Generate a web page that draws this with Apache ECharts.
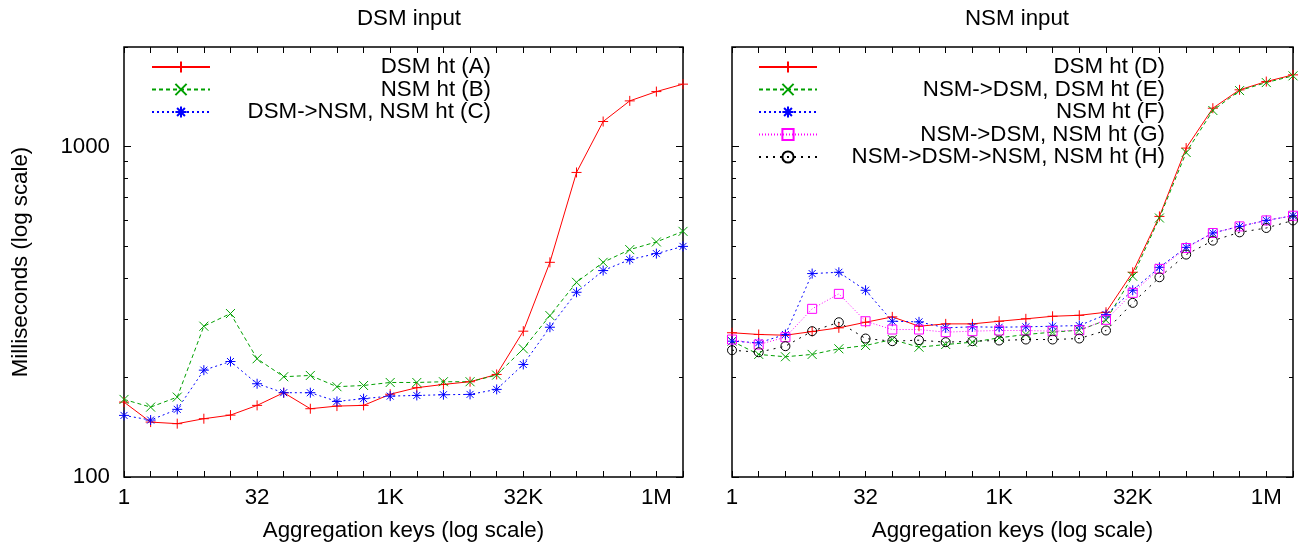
<!DOCTYPE html>
<html>
<head>
<meta charset="utf-8">
<script src="https://cdn.jsdelivr.net/npm/echarts@6/dist/echarts.min.js"></script>
<style>
  html, body { margin: 0; padding: 0; background: #fff; }
  #chart { width: 1305px; height: 550px; }
</style>
</head>
<body>
<div id="chart"></div>
<script>
// x = log2 of number of aggregation keys (1 .. 2M)
var keyExp = [0, 1, 2, 3, 4, 5, 6, 7, 8, 9, 10, 11, 12, 13, 14, 15, 16, 17, 18, 19, 20, 21];
var xTickExp = [0, 5, 10, 15, 20];
var xTickLabels = ["1", "32", "1K", "32K", "1M"];
var yMajor = [100, 1000];
var yMinor = [200, 300, 400, 500, 600, 700, 800, 900, 2000];

// DSM input (ms)
var dsmHtA = [168.5, 146.6, 145.0, 150.1, 153.9, 164.7, 179.9, 160.9, 163.9, 164.7, 178, 186.3, 190.6, 194.2, 204.3, 276.2, 446.2, 834.6, 1190, 1374, 1466, 1544];
var nsmHtB = [171.7, 162.7, 174.5, 285.9, 312.3, 227.9, 201.1, 202.9, 187.6, 189.2, 193.2, 193.2, 194.2, 194.2, 203.4, 244.3, 307.9, 388.2, 446.2, 487.5, 514.3, 553.6];
var dsmNsmC = [153.6, 148.7, 160.2, 210.5, 223.6, 191.5, 179.9, 179.9, 169.3, 172.6, 175.7, 176.5, 177.4, 177.8, 184.1, 219, 283.9, 362.2, 421.3, 454.8, 474.1, 498.6];

// NSM input (ms)
var dsmHtD = [273.2, 269.9, 268.5, 275.5, 282.7, 293.9, 305.1, 285.9, 290.6, 290.6, 296, 301, 306.4, 308.5, 315.1, 416.3, 614.4, 989, 1306, 1484, 1572, 1647];
var nsmDsmE = [257.6, 234.9, 231.1, 234.9, 244.3, 250, 260.6, 247, 251.7, 255.8, 263.7, 269.9, 274.3, 278.1, 298.1, 404.9, 607.7, 959, 1285, 1476, 1561, 1636];
var nsmHtF = [257.6, 254.7, 269.9, 412.6, 416.3, 367.3, 296, 294.7, 282.7, 284.7, 283.9, 284.7, 285.9, 287.2, 310, 367.3, 430.9, 495.2, 547.4, 573.1, 597.5, 617.4];
var nsmDsmNsmG = [260.6, 251.7, 264.8, 322.7, 358.2, 296, 279.4, 279.4, 274.3, 276.2, 277.5, 277.5, 276.2, 278.1, 298.9, 360.7, 426.3, 493, 547.4, 573.1, 597.5, 617.4];
var nsmDsmNsmH = [241.9, 238.5, 248.8, 276.2, 293.9, 262.4, 257.6, 259.4, 255.8, 257.6, 258.8, 260.6, 260.6, 262.4, 277.5, 336.4, 402.1, 470.9, 519, 549.8, 566.8, 597.5];

var FONT = "'Liberation Sans', Arial, sans-serif";
var FS = 22.3;
var PLUS = "path://M0,5L10,5M5,0L5,10";
var CROSS = "path://M0,0L10,10M10,0L0,10";
var STAR = "path://M0,5L10,5M5,0L5,10M1.5,1.5L8.5,8.5M8.5,1.5L1.5,8.5";

var chart = echarts.init(document.getElementById("chart"));

function pts(vals) {
  return keyExp.map(function (e, i) { return [e, vals[i]]; });
}

function xAxes(grid) {
  var base = {
    gridIndex: grid, type: "value", min: 0, max: 21, interval: 1,
    axisLine: { show: false },
    axisTick: { inside: true, length: 6, lineStyle: { color: "#000", width: 1 } },
    splitLine: { show: false }
  };
  var bottom = Object.assign({}, base, {
    position: "bottom",
    name: "Aggregation keys (log scale)",
    nameLocation: "middle", nameGap: 43,
    nameTextStyle: { color: "#000", fontSize: FS, fontFamily: FONT },
    axisLabel: {
      color: "#000", fontSize: FS, fontFamily: FONT, margin: 10,
      formatter: function (v) {
        var k = xTickExp.indexOf(v);
        return k < 0 ? "" : xTickLabels[k];
      }
    }
  });
  var top = Object.assign({}, base, { position: "top", axisLabel: { show: false } });
  return [bottom, top];
}

function yAxes(grid, withLabels) {
  var out = [];
  ["left", "right"].forEach(function (pos) {
    [[yMajor, 7], [yMinor, 4]].forEach(function (t, j) {
      var ax = {
        gridIndex: grid, type: "log", logBase: 10, min: 100, max: 2000, position: pos,
        axisLine: { show: false },
        splitLine: { show: false },
        axisTick: { inside: true, length: t[1], customValues: t[0], lineStyle: { color: "#000", width: 1 } },
        axisLabel: { show: false }
      };
      if (withLabels && pos === "left" && j === 0) {
        ax.axisLabel = {
          show: true, customValues: yMajor, color: "#000", fontSize: FS, fontFamily: FONT, margin: 14,
          formatter: function (v) { return String(Math.round(v)); }
        };
        ax.name = "Milliseconds (log scale)";
        ax.nameLocation = "middle";
        ax.nameGap = 92;
        ax.nameTextStyle = { color: "#000", fontSize: FS, fontFamily: FONT };
      }
      out.push(ax);
    });
  });
  return out;
}

function line(name, vals, grid, color, dash, symbol, size, hollow) {
  return {
    name: name, type: "line", data: pts(vals),
    xAxisIndex: grid * 2, yAxisIndex: grid * 4,
    symbol: symbol, symbolSize: size,
    lineStyle: { color: color, width: 1, type: dash },
    itemStyle: { color: hollow ? "rgba(0,0,0,0)" : color, borderColor: color, borderWidth: 1 },
    emphasis: { disabled: true },
    animation: false
  };
}

function legend(names, left, textWidth) {
  return {
    data: names, orient: "vertical", left: left, top: 51,
    itemWidth: 58, itemHeight: 14, itemGap: 0.5,
    selectedMode: false,
    formatter: function (n) { return "{t|" + n + "}"; },
    textStyle: {
      color: "#000", fontSize: FS, fontFamily: FONT,
      rich: { t: { width: textWidth, align: "right", fontSize: FS, fontFamily: FONT, lineHeight: 22, color: "#000" } }
    }
  };
}

var titleStyle = { color: "#000", fontSize: FS, fontWeight: "normal", fontFamily: FONT };

chart.setOption({
  animation: false,
  title: [
    { text: "DSM input", left: 404, top: 3, textAlign: "center", textStyle: titleStyle },
    { text: "NSM input", left: 1012, top: 3, textAlign: "center", textStyle: titleStyle }
  ],
  grid: [
    { left: 124, top: 47, width: 559, height: 430, show: true, borderColor: "#000", borderWidth: 1.5 },
    { left: 732, top: 47, width: 561, height: 430, show: true, borderColor: "#000", borderWidth: 1.5 }
  ],
  legend: [
    legend(["DSM ht (A)", "NSM ht (B)", "DSM->NSM, NSM ht (C)"], 146, 276),
    legend(["DSM ht (D)", "NSM->DSM, DSM ht (E)", "NSM ht (F)", "NSM->DSM, NSM ht (G)", "NSM->DSM->NSM, NSM ht (H)"], 753, 343)
  ],
  xAxis: xAxes(0).concat(xAxes(1)),
  yAxis: yAxes(0, true).concat(yAxes(1, false)),
  series: [
    line("DSM ht (A)", dsmHtA, 0, "#ff0000", "solid", PLUS, 10, false),
    line("NSM ht (B)", nsmHtB, 0, "#00a000", [4, 3], CROSS, 9, false),
    line("DSM->NSM, NSM ht (C)", dsmNsmC, 0, "#0000ff", [2, 3], STAR, 10, false),
    line("DSM ht (D)", dsmHtD, 1, "#ff0000", "solid", PLUS, 10, false),
    line("NSM->DSM, DSM ht (E)", nsmDsmE, 1, "#00a000", [4, 3], CROSS, 9, false),
    line("NSM ht (F)", nsmHtF, 1, "#0000ff", [2, 3], STAR, 10, false),
    line("NSM->DSM, NSM ht (G)", nsmDsmNsmG, 1, "#ff00ff", [1, 2], "rect", 9, true),
    line("NSM->DSM->NSM, NSM ht (H)", nsmDsmNsmH, 1, "#000000", [2, 5], "circle", 9, true)
  ]
});
</script>
</body>
</html>
